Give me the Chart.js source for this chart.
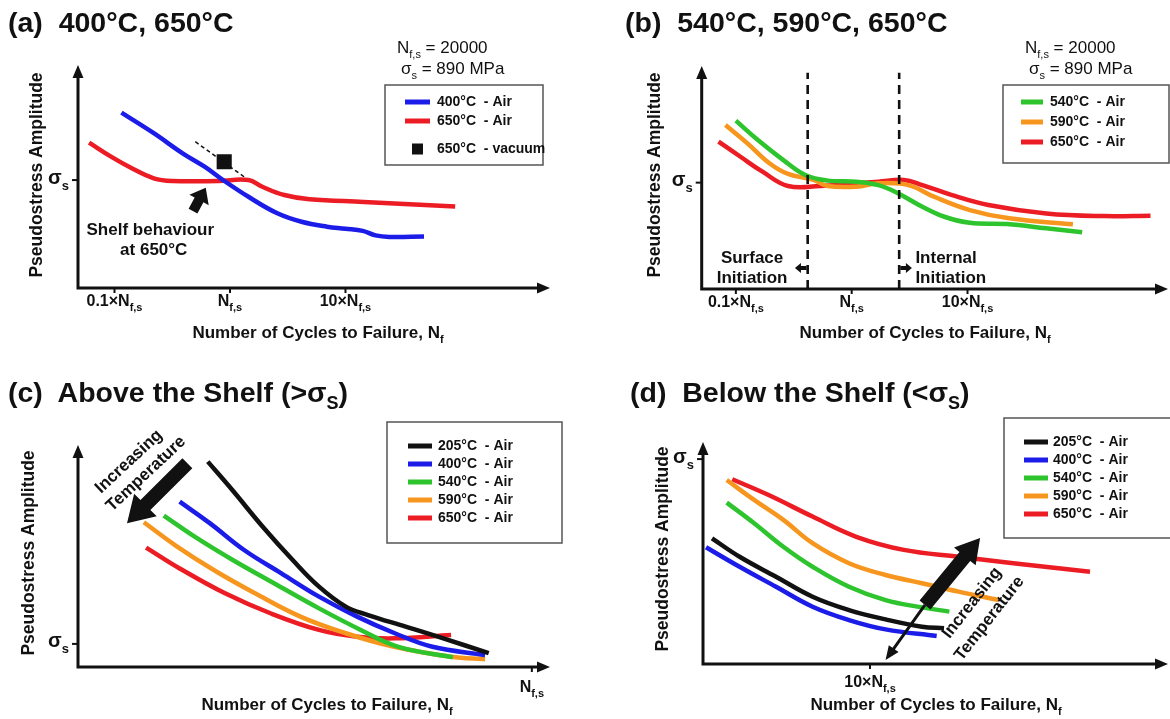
<!DOCTYPE html>
<html lang="en">
<head>
<meta charset="UTF-8" />
<title>Pseudostress amplitude vs cycles to failure</title>
<script src="https://cdn.jsdelivr.net/npm/chart.js"></script>
<style>
  body { margin: 0; background: #fff; }
  #page { position: relative; width: 1170px; height: 719px; overflow: hidden; font-family: "Liberation Sans", Arial, sans-serif; }
  .panel { position: absolute; }
  .title { position: absolute; font-weight: bold; font-size: 28.5px; white-space: pre; color: #111; line-height: normal; }
  .title sub { font-size: 18px; }
</style>
</head>
<body>
<div id="page">
  <div class="panel" style="left:0;top:0;width:585px;height:360px"><canvas id="chartA"></canvas></div>
  <div class="panel" style="left:585px;top:0;width:585px;height:360px"><canvas id="chartB"></canvas></div>
  <div class="panel" style="left:0;top:360px;width:585px;height:359px"><canvas id="chartC"></canvas></div>
  <div class="panel" style="left:585px;top:360px;width:585px;height:359px"><canvas id="chartD"></canvas></div>

  <div class="title" style="left:8px;top:6px">(a)  400°C, 650°C</div>
  <div class="title" style="left:625px;top:6px">(b)  540°C, 590°C, 650°C</div>
  <div class="title" style="left:8px;top:376px">(c)  Above the Shelf (&gt;σ<sub>S</sub>)</div>
  <div class="title" style="left:630px;top:376px">(d)  Below the Shelf (&lt;σ<sub>S</sub>)</div>
</div>

<script>
  // x is log10(N / Nf,s) in (a) and (b); (c) and (d) use a plain position scale
  // y is pseudostress amplitude in arbitrary units (0 = x axis, 10 = top of y axis)

  // ---- (a) 400°C, 650°C
  const aTicks = [-1, 0, 1];
  const aTickLabels = ["0.1×N_{f,s}", "N_{f,s}", "10×N_{f,s}"];
  const aSigma = 4.84;
  const aLabels = ["400°C  - Air", "650°C  - Air", "650°C  - vacuum"];
  const a400 = [[-0.94, 7.86], [-0.66, 6.94], [-0.41, 6.04], [-0.22, 5.44], [-0.06, 4.84], [0.16, 4.09], [0.41, 3.35], [0.62, 2.97], [0.84, 2.75], [1.0, 2.66], [1.15, 2.56], [1.26, 2.36], [1.38, 2.29], [1.68, 2.31]];
  const a650 = [[-1.22, 6.52], [-1.03, 5.89], [-0.85, 5.37], [-0.66, 4.92], [-0.5, 4.8], [-0.1, 4.8], [0.16, 4.84], [0.28, 4.54], [0.47, 4.17], [0.69, 3.98], [1.16, 3.86], [1.95, 3.65]];
  const a650vac = [[-0.05, 5.66]];

  // ---- (b) 540°C, 590°C, 650°C
  const bTicks = [-1, 0, 1];
  const bTickLabels = ["0.1×N_{f,s}", "N_{f,s}", "10×N_{f,s}"];
  const bSigma = 4.77;
  const bBounds = [-0.38, 0.41]; // surface / internal initiation limits
  const bLabels = ["540°C  - Air", "590°C  - Air", "650°C  - Air"];
  const b540 = [[-1.0, 7.55], [-0.81, 6.68], [-0.59, 5.78], [-0.4, 5.11], [-0.21, 4.86], [0.04, 4.81], [0.23, 4.66], [0.39, 4.32], [0.61, 3.69], [0.8, 3.24], [1.02, 2.97], [1.34, 2.91], [1.68, 2.72], [1.99, 2.54]];
  const b590 = [[-1.09, 7.35], [-0.9, 6.53], [-0.71, 5.64], [-0.55, 5.16], [-0.33, 4.89], [-0.21, 4.62], [0.04, 4.59], [0.23, 4.74], [0.49, 4.66], [0.71, 4.14], [1.02, 3.54], [1.36, 3.17], [1.91, 2.9]];
  const b650 = [[-1.15, 6.61], [-0.96, 5.93], [-0.77, 5.26], [-0.55, 4.62], [-0.27, 4.62], [-0.02, 4.71], [0.23, 4.81], [0.45, 4.89], [0.61, 4.66], [0.86, 4.22], [1.18, 3.77], [1.68, 3.39], [2.18, 3.27], [2.58, 3.29]];

  // ---- (c) above the shelf
  const cTicks = [10];
  const cTickLabels = ["N_{f,s}"];
  const cSigma = 1.04;
  const cdLabels = ["205°C  - Air", "400°C  - Air", "540°C  - Air", "590°C  - Air", "650°C  - Air"];
  const c205 = [[2.86, 9.25], [3.4, 7.97], [4.07, 6.32], [4.73, 4.82], [5.31, 3.62], [5.9, 2.72], [6.39, 2.34], [7.22, 1.82], [8.05, 1.29], [9.05, 0.62]];
  const c400 = [[2.24, 7.45], [2.91, 6.47], [3.66, 5.27], [4.48, 4.22], [5.31, 3.17], [6.15, 2.27], [6.98, 1.52], [7.81, 0.91], [8.97, 0.54]];
  const c540 = [[1.89, 6.82], [2.57, 5.87], [3.41, 4.82], [4.32, 3.77], [5.31, 2.64], [6.23, 1.67], [7.06, 0.91], [8.26, 0.44]];
  const c590 = [[1.45, 6.52], [2.16, 5.46], [2.99, 4.37], [3.9, 3.32], [4.9, 2.27], [5.9, 1.52], [6.97, 0.91], [8.22, 0.46], [8.97, 0.35]];
  const c650 = [[1.5, 5.38], [2.24, 4.44], [3.24, 3.32], [4.24, 2.42], [5.31, 1.67], [6.15, 1.36], [6.98, 1.29], [8.22, 1.44]];

  // ---- (d) below the shelf
  const dTicks = [10];
  const dTickLabels = ["10×N_{f,s}"];
  const dSigma = 9.23;
  const d205 = [[0.54, 5.66], [2.19, 4.83], [4.37, 3.93], [6.56, 3.03], [8.74, 2.43], [10.93, 2.01], [13.11, 1.68], [14.43, 1.61]];
  const d400 = [[0.18, 5.26], [2.19, 4.38], [4.37, 3.48], [6.56, 2.58], [8.74, 1.98], [10.93, 1.56], [13.99, 1.26]];
  const d540 = [[1.42, 7.27], [3.06, 6.34], [4.81, 5.28], [6.56, 4.38], [8.74, 3.48], [10.93, 2.88], [13.11, 2.55], [14.75, 2.36]];
  const d590 = [[1.42, 8.29], [3.06, 7.39], [4.81, 6.49], [6.56, 5.44], [8.74, 4.54], [10.93, 4.01], [13.11, 3.64], [15.3, 3.26], [17.71, 2.88]];
  const d650 = [[1.75, 8.32], [3.93, 7.61], [6.56, 6.64], [9.18, 5.73], [12.02, 5.14], [15.3, 4.83], [18.58, 4.54], [23.17, 4.16]];

  const INK = "#111";
  const COL = { k: "#111111", b: "#1c1ce8", g: "#2ec42e", o: "#f7961e", r: "#ec1c24" };
  const FONT = '"Liberation Sans", Arial, sans-serif';
  const DECOR = {};

  // text with N_{f,s} style subscripts
  function drawRich(ctx, text, x, y, size, align, weight) {
    const parts = text.split(/(_\{[^}]*\})/).filter(Boolean).map((p) =>
      p.startsWith("_{") ? { t: p.slice(2, -1), sub: true } : { t: p, sub: false }
    );
    const subSize = Math.round(size * 0.66);
    let w = 0;
    parts.forEach((p) => {
      ctx.font = `${weight} ${p.sub ? subSize : size}px ${FONT}`;
      p.w = ctx.measureText(p.t).width;
      w += p.w;
    });
    let cx = align === "center" ? x - w / 2 : align === "right" ? x - w : x;
    ctx.textAlign = "left";
    ctx.textBaseline = "middle";
    parts.forEach((p) => {
      ctx.font = `${weight} ${p.sub ? subSize : size}px ${FONT}`;
      ctx.fillText(p.t, cx, p.sub ? y + size * 0.4 : y);
      cx += p.w;
    });
  }

  function blockArrow(ctx, x1, y1, x2, y2, shaft, head, headLen) {
    const ang = Math.atan2(y2 - y1, x2 - x1);
    const len = Math.hypot(x2 - x1, y2 - y1);
    ctx.save();
    ctx.translate(x1, y1);
    ctx.rotate(ang);
    ctx.beginPath();
    ctx.moveTo(0, -shaft / 2);
    ctx.lineTo(len - headLen, -shaft / 2);
    ctx.lineTo(len - headLen, -head / 2);
    ctx.lineTo(len, 0);
    ctx.lineTo(len - headLen, head / 2);
    ctx.lineTo(len - headLen, shaft / 2);
    ctx.lineTo(0, shaft / 2);
    ctx.closePath();
    ctx.fill();
    ctx.restore();
  }

  // axes, ticks, legend and annotations for each panel
  const decor = {
    id: "decor",
    afterDatasetsDraw(chart) {
      const d = DECOR[chart.canvas.id];
      const ctx = chart.ctx;
      const a = chart.chartArea;
      const px = (v) => chart.scales.x.getPixelForValue(v);
      const py = (v) => chart.scales.y.getPixelForValue(v);
      ctx.save();
      ctx.fillStyle = INK;
      ctx.strokeStyle = INK;

      // dashed guides
      (d.vlines || []).forEach((v) => {
        ctx.setLineDash([9, 6]);
        ctx.lineWidth = 2.6;
        ctx.beginPath();
        ctx.moveTo(px(v), py(0));
        ctx.lineTo(px(v), py(9.7));
        ctx.stroke();
      });
      (d.dashes || []).forEach((s) => {
        ctx.setLineDash([4, 3]);
        ctx.lineWidth = 1.5;
        ctx.beginPath();
        ctx.moveTo(px(s[0]), py(s[1]));
        ctx.lineTo(px(s[2]), py(s[3]));
        ctx.stroke();
      });
      ctx.setLineDash([]);

      // axes with arrow heads
      ctx.lineWidth = 3;
      ctx.beginPath();
      ctx.moveTo(a.left, a.top + 8);
      ctx.lineTo(a.left, a.bottom);
      ctx.lineTo(a.right - 8, a.bottom);
      ctx.stroke();
      ctx.beginPath();
      ctx.moveTo(a.left, a.top);
      ctx.lineTo(a.left - 5.5, a.top + 13);
      ctx.lineTo(a.left + 5.5, a.top + 13);
      ctx.closePath();
      ctx.fill();
      ctx.beginPath();
      ctx.moveTo(a.right, a.bottom);
      ctx.lineTo(a.right - 13, a.bottom - 5.5);
      ctx.lineTo(a.right - 13, a.bottom + 5.5);
      ctx.closePath();
      ctx.fill();

      // x ticks
      ctx.lineWidth = 2;
      d.ticks.forEach((v, i) => {
        ctx.beginPath();
        ctx.moveTo(px(v), a.bottom);
        ctx.lineTo(px(v), a.bottom + 5);
        ctx.stroke();
        drawRich(ctx, d.tickLabels[i], px(v), a.bottom + d.tickDy, 16, "center", "bold");
      });
      // sigma_s tick
      const sy = py(d.sigma);
      ctx.beginPath();
      ctx.moveTo(a.left - 6, sy);
      ctx.lineTo(a.left, sy);
      ctx.stroke();
      drawRich(ctx, "σ_{s}", a.left - 9, sy - 2, 20, "right", "bold");

      // axis titles
      drawRich(ctx, "Number of Cycles to Failure, N_{f}", d.xTitle[0], d.xTitle[1], 17, "center", "bold");
      ctx.save();
      ctx.translate(d.yTitle[0], d.yTitle[1]);
      ctx.rotate(-Math.PI / 2);
      drawRich(ctx, "Pseudostress Amplitude", 0, 0, 17.5, "center", "bold");
      ctx.restore();

      // legend
      const lg = d.legend;
      ctx.lineWidth = 1.5;
      ctx.strokeStyle = "#555";
      ctx.strokeRect(lg.box[0], lg.box[1], lg.box[2] - lg.box[0], lg.box[3] - lg.box[1]);
      chart.data.datasets.forEach((ds, i) => {
        const y = lg.rows[i];
        ctx.fillStyle = ds.borderColor;
        ctx.strokeStyle = ds.borderColor;
        if (ds.showLine === false) {
          const m = (lg.lineX[0] + lg.lineX[1]) / 2;
          ctx.fillRect(m - 5.5, y - 5.5, 11, 11);
        } else {
          ctx.lineWidth = 5;
          ctx.beginPath();
          ctx.moveTo(lg.lineX[0], y);
          ctx.lineTo(lg.lineX[1], y);
          ctx.stroke();
        }
        ctx.fillStyle = INK;
        drawRich(ctx, ds.label, lg.textX, y, 14, "left", "bold");
      });
      ctx.fillStyle = INK;

      // notes (Nf,s, sigma_s values)
      (d.notes || []).forEach((n) => drawRich(ctx, n[0], n[1], n[2], 17, "left", "normal"));

      // arrows in data units
      (d.arrows || []).forEach((r) =>
        blockArrow(ctx, px(r[0]), py(r[1]), px(r[2]), py(r[3]), r[4], r[5], r[6])
      );

      // labels in data units
      (d.texts || []).forEach((t) => {
        ctx.save();
        ctx.translate(px(t.x), py(t.y));
        ctx.rotate(((t.rot || 0) * Math.PI) / 180);
        drawRich(ctx, t.t, 0, 0, t.size || 17, t.align || "center", "bold");
        ctx.restore();
      });
      ctx.restore();
    },
  };

  function series(label, pts, color) {
    return {
      label: label,
      data: pts.map((p) => ({ x: p[0], y: p[1] })),
      borderColor: color,
      backgroundColor: color,
      borderWidth: 4.5,
      pointRadius: 0,
      tension: 0.4,
      fill: false,
    };
  }

  function makeChart(id, datasets, pad, xRange, deco) {
    DECOR[id] = deco;
    return new Chart(document.getElementById(id), {
      type: "line",
      data: { datasets: datasets },
      options: {
        responsive: true,
        maintainAspectRatio: false,
        animation: false,
        events: [],
        layout: { padding: pad },
        scales: {
          x: { type: "linear", min: xRange[0], max: xRange[1], display: false },
          y: { type: "linear", min: 0, max: 10, display: false },
        },
        plugins: { legend: { display: false }, tooltip: { enabled: false } },
      },
      plugins: [decor],
    });
  }

  Chart.defaults.font.family = FONT;

  // (a)
  const vac = series(aLabels[2], a650vac, INK);
  vac.showLine = false;
  vac.pointStyle = "rect";
  vac.pointRadius = 7.5;
  makeChart(
    "chartA",
    [series(aLabels[0], a400, COL.b), series(aLabels[1], a650, COL.r), vac],
    { left: 78, top: 65, right: 35, bottom: 72 },
    [-1.316, 2.771],
    {
      ticks: aTicks, tickLabels: aTickLabels, tickDy: 14, sigma: aSigma,
      xTitle: [318, 333], yTitle: [37, 175],
      legend: { box: [385, 85, 543, 165], rows: [102, 121, 149], lineX: [405, 430], textX: 437 },
      notes: [["N_{f,s} = 20000", 397, 48], ["σ_{s} = 890 MPa", 401, 69]],
      dashes: [[-0.3, 6.56, 0.14, 4.92]],
      arrows: [[-0.32, 3.45, -0.21, 4.5, 10, 22, 14]],
      texts: [
        { t: "Shelf behaviour", x: -0.69, y: 2.6 },
        { t: "at 650°C", x: -0.66, y: 1.7 },
      ],
    }
  );

  // (b)
  makeChart(
    "chartB",
    [series(bLabels[0], b540, COL.g), series(bLabels[1], b590, COL.o), series(bLabels[2], b650, COL.r)],
    { left: 116.7, top: 66, right: 2, bottom: 71 },
    [-1.295, 2.731],
    {
      ticks: bTicks, tickLabels: bTickLabels, tickDy: 14, sigma: bSigma,
      xTitle: [340, 333], yTitle: [70, 175],
      legend: { box: [418, 85, 584, 163], rows: [102, 122, 142], lineX: [436, 458], textX: 465 },
      notes: [["N_{f,s} = 20000", 440, 48], ["σ_{s} = 890 MPa", 444, 69]],
      vlines: bBounds,
      arrows: [
        [bBounds[0] - 0.01, 0.94, bBounds[0] - 0.11, 0.94, 4, 10, 6],
        [bBounds[1] + 0.01, 0.94, bBounds[1] + 0.11, 0.94, 4, 10, 6],
      ],
      texts: [
        { t: "Surface", x: -0.86, y: 1.39 },
        { t: "Initiation", x: -0.86, y: 0.49 },
        { t: "Internal", x: 0.55, y: 1.39, align: "left" },
        { t: "Initiation", x: 0.55, y: 0.49, align: "left" },
      ],
    }
  );

  // (c)
  makeChart(
    "chartC",
    [series(cdLabels[0], c205, COL.k), series(cdLabels[1], c400, COL.b), series(cdLabels[2], c540, COL.g), series(cdLabels[3], c590, COL.o), series(cdLabels[4], c650, COL.r)],
    { left: 78, top: 85, right: 35, bottom: 52 },
    [0, 10.4],
    {
      ticks: cTicks, tickLabels: cTickLabels, tickDy: 21, sigma: cSigma,
      xTitle: [327, 345], yTitle: [29, 193],
      legend: { box: [387, 62, 562, 183], rows: [86, 104, 122, 140, 158], lineX: [408, 432], textX: 438 },
      arrows: [[2.41, 9.18, 1.08, 6.47, 14, 32, 26]],
      texts: [
        { t: "Increasing", x: 1.12, y: 9.25, rot: -43 },
        { t: "Temperature", x: 1.5, y: 8.7, rot: -43 },
      ],
    }
  );

  // (d)
  makeChart(
    "chartD",
    [series(cdLabels[0], d205, COL.k), series(cdLabels[1], d400, COL.b), series(cdLabels[2], d540, COL.g), series(cdLabels[3], d590, COL.o), series(cdLabels[4], d650, COL.r)],
    { left: 118, top: 82, right: 2, bottom: 55 },
    [0, 27.84],
    {
      ticks: dTicks, tickLabels: dTickLabels, tickDy: 19, sigma: dSigma,
      xTitle: [351, 345], yTitle: [78, 189],
      legend: { box: [419, 58, 590, 178], rows: [82, 100, 118, 136, 154], lineX: [439, 463], textX: 468 },
      arrows: [
        [13.29, 2.66, 10.93, 0.18, 3, 12, 14],
        [13.29, 2.66, 16.59, 5.68, 14, 28, 24],
      ],
      texts: [
        { t: "Increasing", x: 16.1, y: 2.75, rot: -52 },
        { t: "Temperature", x: 17.15, y: 2.05, rot: -52 },
      ],
    }
  );
</script>
</body>
</html>
